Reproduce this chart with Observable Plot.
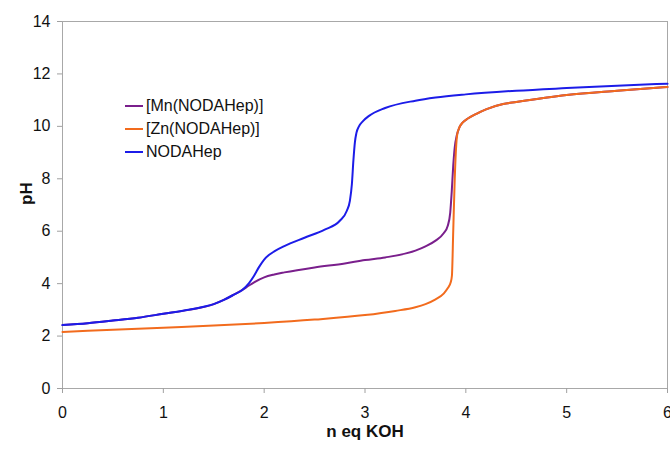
<!DOCTYPE html>
<html><head><meta charset="utf-8">
<script src="https://cdn.jsdelivr.net/npm/d3@7"></script>
<script src="https://cdn.jsdelivr.net/npm/@observablehq/plot@0.6"></script>
<style>
body{margin:0;background:#fff;font-family:"Liberation Sans",Arial,sans-serif}
#wrap{position:relative;width:670px;height:449px}
#legend{position:absolute;left:125px;top:94px;font-size:16px;line-height:23px;color:#111}
.item{display:flex;align-items:center;height:23px}
.sw{width:18px;height:2px;margin-right:3px}
</style></head><body><div id="wrap"><div id="legend"></div></div>
<script>
const seriesNames = ["[Mn(NODAHep)]", "[Zn(NODAHep)]", "NODAHep"];
const seriesColors = ["#7a1f8c", "#f26b1d", "#1c1ce8"];

const mnX = [0, 0.25, 0.5, 0.75, 1.0, 1.25, 1.5, 1.6, 1.7, 1.78, 1.85, 1.9, 2.0, 2.1, 2.2, 2.5, 2.8, 3.0, 3.2, 3.5, 3.6, 3.7, 3.78, 3.82, 3.845, 3.86, 3.875, 3.89, 3.91, 3.935, 3.97, 4.02, 4.1, 4.2, 4.37, 4.5, 5.0, 5.5, 6.0];
const mnY = [2.42, 2.49, 2.59, 2.7, 2.85, 3.0, 3.22, 3.38, 3.58, 3.75, 3.93, 4.05, 4.24, 4.35, 4.43, 4.62, 4.77, 4.9, 5.0, 5.26, 5.42, 5.64, 5.92, 6.2, 6.7, 7.5, 8.5, 9.2, 9.65, 9.95, 10.15, 10.3, 10.47, 10.65, 10.85, 10.93, 11.2, 11.36, 11.5];

const znX = [0, 0.5, 1.0, 1.5, 2.0, 2.5, 3.0, 3.3, 3.5, 3.6, 3.7, 3.78, 3.82, 3.85, 3.862, 3.875, 3.89, 3.905, 3.915, 3.935, 3.97, 4.02, 4.1, 4.2, 4.37, 4.5, 5.0, 5.5, 6.0];
const znY = [2.16, 2.24, 2.32, 2.4, 2.5, 2.63, 2.8, 2.96, 3.1, 3.22, 3.4, 3.62, 3.82, 4.05, 4.3, 6.0, 8.0, 9.3, 9.7, 9.95, 10.15, 10.3, 10.47, 10.65, 10.85, 10.93, 11.2, 11.36, 11.5];

const hepX = [0, 0.25, 0.5, 0.75, 1.0, 1.25, 1.4, 1.5, 1.6, 1.7, 1.78, 1.85, 1.9, 1.95, 2.0, 2.05, 2.1, 2.2, 2.4, 2.6, 2.75, 2.82, 2.85, 2.87, 2.885, 2.9, 2.915, 2.94, 2.98, 3.04, 3.2, 3.5, 3.7, 4.0, 4.5, 5.0, 5.5, 6.0];
const hepY = [2.42, 2.49, 2.59, 2.7, 2.85, 3.0, 3.12, 3.22, 3.38, 3.58, 3.75, 4.02, 4.3, 4.64, 4.92, 5.1, 5.23, 5.43, 5.75, 6.06, 6.4, 6.78, 7.16, 7.8, 8.7, 9.4, 9.75, 10.0, 10.2, 10.4, 10.7, 10.98, 11.1, 11.22, 11.36, 11.46, 11.55, 11.63];

const xTicks = [0, 1, 2, 3, 4, 5, 6];
const yTicks = [0, 2, 4, 6, 8, 10, 12, 14];
const xLabel = "n eq KOH";
const yLabel = "pH";

const toRows = (xs, ys) => xs.map((x, i) => ({x, y: ys[i]}));
const mn = toRows(mnX, mnY), zn = toRows(znX, znY), hep = toRows(hepX, hepY);

const chart = Plot.plot({
  width: 670, height: 449,
  marginLeft: 62, marginRight: 3, marginTop: 21, marginBottom: 61,
  style: {fontFamily: '"Liberation Sans", Arial, sans-serif', fontSize: "16px", color: "#111", background: "white", overflow: "visible"},
  x: {domain: [0, 6]},
  y: {domain: [0, 14]},
  marks: [
    Plot.frame({stroke: "#a8a8a8"}),
    Plot.axisX({ticks: xTicks, tickSize: 5, tickPadding: 13, stroke: "#a0a0a0", label: null, fontSize: 16, tickFormat: d => String(d)}),
    Plot.axisY({ticks: yTicks, tickSize: 5, tickPadding: 7, stroke: "#a0a0a0", label: null, fontSize: 16, tickFormat: d => String(d)}),
    Plot.line(mn, {x: "x", y: "y", stroke: seriesColors[0], strokeWidth: 2, curve: "monotone-x"}),
    Plot.line(zn, {x: "x", y: "y", stroke: seriesColors[1], strokeWidth: 2, curve: "monotone-x"}),
    Plot.line(hep, {x: "x", y: "y", stroke: seriesColors[2], strokeWidth: 2, curve: "monotone-x"}),
    Plot.text([xLabel], {text: d => d, frameAnchor: "bottom", dy: 48, fontWeight: "bold", fontSize: 17, fill: "#111"}),
    Plot.text([yLabel], {text: d => d, frameAnchor: "left", dx: -36, rotate: -90, fontWeight: "bold", fontSize: 17, fill: "#111"})
  ]
});
const wrap = document.getElementById("wrap");
wrap.insertBefore(chart, wrap.firstChild);

const legend = document.getElementById("legend");
seriesNames.forEach((name, i) => {
  const item = document.createElement("div");
  item.className = "item";
  const sw = document.createElement("span");
  sw.className = "sw";
  sw.style.background = seriesColors[i];
  const t = document.createElement("span");
  t.textContent = name;
  item.appendChild(sw); item.appendChild(t);
  legend.appendChild(item);
});
</script></body></html>
